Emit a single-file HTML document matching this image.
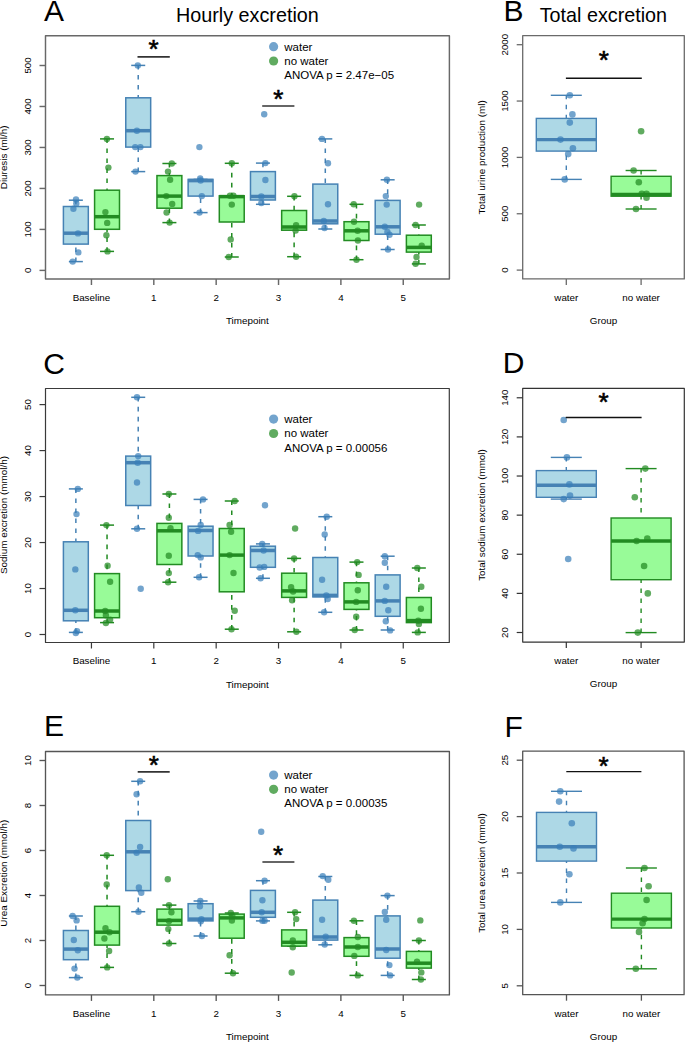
<!DOCTYPE html>
<html><head><meta charset="utf-8"><title>Figure</title>
<style>
html,body{margin:0;padding:0;background:#fff;}
body{width:685px;height:1042px;overflow:hidden;}
svg{display:block;}
text{font-family:"Liberation Sans", sans-serif;}
</style></head><body>
<svg width="685" height="1042" viewBox="0 0 685 1042" font-family='"Liberation Sans", sans-serif'>
<rect width="685" height="1042" fill="#fff"/>
<line x1="75.86" y1="200.2" x2="75.86" y2="206.5" stroke="#4682b4" stroke-width="1.5" stroke-dasharray="4.6 5.4" stroke-dashoffset="0.5"/>
<line x1="75.86" y1="261.6" x2="75.86" y2="244.1" stroke="#4682b4" stroke-width="1.5" stroke-dasharray="4.6 5.4" stroke-dashoffset="0.5"/>
<line x1="68.86" y1="200.2" x2="82.86" y2="200.2" stroke="#4682b4" stroke-width="1.5"/>
<line x1="68.86" y1="261.6" x2="82.86" y2="261.6" stroke="#4682b4" stroke-width="1.5"/>
<rect x="63.41" y="206.5" width="24.9" height="37.6" fill="#add8e6" stroke="#4682b4" stroke-width="1.5"/>
<line x1="63.41" y1="233.2" x2="88.31" y2="233.2" stroke="#4682b4" stroke-width="3.5"/>
<line x1="107.04" y1="138.9" x2="107.04" y2="190.2" stroke="#228b22" stroke-width="1.5" stroke-dasharray="4.6 5.4" stroke-dashoffset="0.5"/>
<line x1="107.04" y1="251.4" x2="107.04" y2="229.3" stroke="#228b22" stroke-width="1.5" stroke-dasharray="4.6 5.4" stroke-dashoffset="0.5"/>
<line x1="100.04" y1="138.9" x2="114.04" y2="138.9" stroke="#228b22" stroke-width="1.5"/>
<line x1="100.04" y1="251.4" x2="114.04" y2="251.4" stroke="#228b22" stroke-width="1.5"/>
<rect x="94.59" y="190.2" width="24.9" height="39.1" fill="#98fb98" stroke="#228b22" stroke-width="1.5"/>
<line x1="94.59" y1="216.7" x2="119.49" y2="216.7" stroke="#228b22" stroke-width="3.5"/>
<line x1="138.22" y1="65.4" x2="138.22" y2="97.8" stroke="#4682b4" stroke-width="1.5" stroke-dasharray="4.6 5.4" stroke-dashoffset="0.5"/>
<line x1="138.22" y1="171.6" x2="138.22" y2="147.1" stroke="#4682b4" stroke-width="1.5" stroke-dasharray="4.6 5.4" stroke-dashoffset="0.5"/>
<line x1="131.22" y1="65.4" x2="145.22" y2="65.4" stroke="#4682b4" stroke-width="1.5"/>
<line x1="131.22" y1="171.6" x2="145.22" y2="171.6" stroke="#4682b4" stroke-width="1.5"/>
<rect x="125.77" y="97.8" width="24.9" height="49.3" fill="#add8e6" stroke="#4682b4" stroke-width="1.5"/>
<line x1="125.77" y1="130.7" x2="150.67" y2="130.7" stroke="#4682b4" stroke-width="3.5"/>
<line x1="169.4" y1="163.5" x2="169.4" y2="175.6" stroke="#228b22" stroke-width="1.5" stroke-dasharray="4.6 5.4" stroke-dashoffset="0.5"/>
<line x1="169.4" y1="222.6" x2="169.4" y2="208.2" stroke="#228b22" stroke-width="1.5" stroke-dasharray="4.6 5.4" stroke-dashoffset="0.5"/>
<line x1="162.4" y1="163.5" x2="176.4" y2="163.5" stroke="#228b22" stroke-width="1.5"/>
<line x1="162.4" y1="222.6" x2="176.4" y2="222.6" stroke="#228b22" stroke-width="1.5"/>
<rect x="156.95" y="175.6" width="24.9" height="32.6" fill="#98fb98" stroke="#228b22" stroke-width="1.5"/>
<line x1="156.95" y1="196.1" x2="181.85" y2="196.1" stroke="#228b22" stroke-width="3.5"/>
<line x1="200.58" y1="212.6" x2="200.58" y2="196.1" stroke="#4682b4" stroke-width="1.5" stroke-dasharray="4.6 5.4" stroke-dashoffset="0.5"/>
<line x1="193.58" y1="179.4" x2="207.58" y2="179.4" stroke="#4682b4" stroke-width="1.5"/>
<line x1="193.58" y1="212.6" x2="207.58" y2="212.6" stroke="#4682b4" stroke-width="1.5"/>
<rect x="188.13" y="179.4" width="24.9" height="16.7" fill="#add8e6" stroke="#4682b4" stroke-width="1.5"/>
<line x1="188.13" y1="180.6" x2="213.03" y2="180.6" stroke="#4682b4" stroke-width="3.5"/>
<line x1="231.76" y1="163.3" x2="231.76" y2="195.8" stroke="#228b22" stroke-width="1.5" stroke-dasharray="4.6 5.4" stroke-dashoffset="0.5"/>
<line x1="231.76" y1="257" x2="231.76" y2="222" stroke="#228b22" stroke-width="1.5" stroke-dasharray="4.6 5.4" stroke-dashoffset="0.5"/>
<line x1="224.76" y1="163.3" x2="238.76" y2="163.3" stroke="#228b22" stroke-width="1.5"/>
<line x1="224.76" y1="257" x2="238.76" y2="257" stroke="#228b22" stroke-width="1.5"/>
<rect x="219.31" y="195.8" width="24.9" height="26.2" fill="#98fb98" stroke="#228b22" stroke-width="1.5"/>
<line x1="219.31" y1="196.6" x2="244.21" y2="196.6" stroke="#228b22" stroke-width="3.5"/>
<line x1="262.94" y1="163.1" x2="262.94" y2="171.6" stroke="#4682b4" stroke-width="1.5" stroke-dasharray="4.6 5.4" stroke-dashoffset="0.5"/>
<line x1="262.94" y1="204.3" x2="262.94" y2="200" stroke="#4682b4" stroke-width="1.5" stroke-dasharray="4.6 5.4" stroke-dashoffset="0.5"/>
<line x1="255.94" y1="163.1" x2="269.94" y2="163.1" stroke="#4682b4" stroke-width="1.5"/>
<line x1="255.94" y1="204.3" x2="269.94" y2="204.3" stroke="#4682b4" stroke-width="1.5"/>
<rect x="250.49" y="171.6" width="24.9" height="28.4" fill="#add8e6" stroke="#4682b4" stroke-width="1.5"/>
<line x1="250.49" y1="196.5" x2="275.39" y2="196.5" stroke="#4682b4" stroke-width="3.5"/>
<line x1="294.12" y1="196.3" x2="294.12" y2="210.5" stroke="#228b22" stroke-width="1.5" stroke-dasharray="4.6 5.4" stroke-dashoffset="0.5"/>
<line x1="294.12" y1="256.7" x2="294.12" y2="230.2" stroke="#228b22" stroke-width="1.5" stroke-dasharray="4.6 5.4" stroke-dashoffset="0.5"/>
<line x1="287.12" y1="196.3" x2="301.12" y2="196.3" stroke="#228b22" stroke-width="1.5"/>
<line x1="287.12" y1="256.7" x2="301.12" y2="256.7" stroke="#228b22" stroke-width="1.5"/>
<rect x="281.67" y="210.5" width="24.9" height="19.7" fill="#98fb98" stroke="#228b22" stroke-width="1.5"/>
<line x1="281.67" y1="227" x2="306.57" y2="227" stroke="#228b22" stroke-width="3.5"/>
<line x1="325.3" y1="138.9" x2="325.3" y2="184.1" stroke="#4682b4" stroke-width="1.5" stroke-dasharray="4.6 5.4" stroke-dashoffset="0.5"/>
<line x1="325.3" y1="229" x2="325.3" y2="223.8" stroke="#4682b4" stroke-width="1.5" stroke-dasharray="4.6 5.4" stroke-dashoffset="0.5"/>
<line x1="318.3" y1="138.9" x2="332.3" y2="138.9" stroke="#4682b4" stroke-width="1.5"/>
<line x1="318.3" y1="229" x2="332.3" y2="229" stroke="#4682b4" stroke-width="1.5"/>
<rect x="312.85" y="184.1" width="24.9" height="39.7" fill="#add8e6" stroke="#4682b4" stroke-width="1.5"/>
<line x1="312.85" y1="221" x2="337.75" y2="221" stroke="#4682b4" stroke-width="3.5"/>
<line x1="356.48" y1="204.3" x2="356.48" y2="221.7" stroke="#228b22" stroke-width="1.5" stroke-dasharray="4.6 5.4" stroke-dashoffset="0.5"/>
<line x1="356.48" y1="259.7" x2="356.48" y2="240.5" stroke="#228b22" stroke-width="1.5" stroke-dasharray="4.6 5.4" stroke-dashoffset="0.5"/>
<line x1="349.48" y1="204.3" x2="363.48" y2="204.3" stroke="#228b22" stroke-width="1.5"/>
<line x1="349.48" y1="259.7" x2="363.48" y2="259.7" stroke="#228b22" stroke-width="1.5"/>
<rect x="344.03" y="221.7" width="24.9" height="18.8" fill="#98fb98" stroke="#228b22" stroke-width="1.5"/>
<line x1="344.03" y1="230.8" x2="368.93" y2="230.8" stroke="#228b22" stroke-width="3.5"/>
<line x1="387.66" y1="179.8" x2="387.66" y2="200.4" stroke="#4682b4" stroke-width="1.5" stroke-dasharray="4.6 5.4" stroke-dashoffset="0.5"/>
<line x1="387.66" y1="249.5" x2="387.66" y2="234.2" stroke="#4682b4" stroke-width="1.5" stroke-dasharray="4.6 5.4" stroke-dashoffset="0.5"/>
<line x1="380.66" y1="179.8" x2="394.66" y2="179.8" stroke="#4682b4" stroke-width="1.5"/>
<line x1="380.66" y1="249.5" x2="394.66" y2="249.5" stroke="#4682b4" stroke-width="1.5"/>
<rect x="375.21" y="200.4" width="24.9" height="33.8" fill="#add8e6" stroke="#4682b4" stroke-width="1.5"/>
<line x1="375.21" y1="226.8" x2="400.11" y2="226.8" stroke="#4682b4" stroke-width="3.5"/>
<line x1="418.84" y1="225" x2="418.84" y2="235.2" stroke="#228b22" stroke-width="1.5" stroke-dasharray="4.6 5.4" stroke-dashoffset="0.5"/>
<line x1="418.84" y1="263.9" x2="418.84" y2="252.1" stroke="#228b22" stroke-width="1.5" stroke-dasharray="4.6 5.4" stroke-dashoffset="0.5"/>
<line x1="411.84" y1="225" x2="425.84" y2="225" stroke="#228b22" stroke-width="1.5"/>
<line x1="411.84" y1="263.9" x2="425.84" y2="263.9" stroke="#228b22" stroke-width="1.5"/>
<rect x="406.39" y="235.2" width="24.9" height="16.9" fill="#98fb98" stroke="#228b22" stroke-width="1.5"/>
<line x1="406.39" y1="247.4" x2="431.29" y2="247.4" stroke="#228b22" stroke-width="3.5"/>
<circle cx="76" cy="199.4" r="3.2" fill="rgba(55,126,184,0.7)"/>
<circle cx="76.3" cy="203.5" r="3.2" fill="rgba(55,126,184,0.7)"/>
<circle cx="73.4" cy="208.8" r="3.2" fill="rgba(55,126,184,0.7)"/>
<circle cx="78" cy="233.4" r="3.2" fill="rgba(55,126,184,0.7)"/>
<circle cx="78.3" cy="252.4" r="3.2" fill="rgba(55,126,184,0.7)"/>
<circle cx="72.7" cy="261.6" r="3.2" fill="rgba(55,126,184,0.7)"/>
<circle cx="106.9" cy="138.9" r="3.2" fill="rgba(34,139,34,0.72)"/>
<circle cx="108.4" cy="167.6" r="3.2" fill="rgba(34,139,34,0.72)"/>
<circle cx="105.4" cy="212.1" r="3.2" fill="rgba(34,139,34,0.72)"/>
<circle cx="107.2" cy="222.9" r="3.2" fill="rgba(34,139,34,0.72)"/>
<circle cx="106.4" cy="235.2" r="3.2" fill="rgba(34,139,34,0.72)"/>
<circle cx="107.5" cy="251.4" r="3.2" fill="rgba(34,139,34,0.72)"/>
<circle cx="137.8" cy="65.4" r="3.2" fill="rgba(55,126,184,0.7)"/>
<circle cx="136.9" cy="130.7" r="3.2" fill="rgba(55,126,184,0.7)"/>
<circle cx="135.2" cy="147.1" r="3.2" fill="rgba(55,126,184,0.7)"/>
<circle cx="140.4" cy="147.1" r="3.2" fill="rgba(55,126,184,0.7)"/>
<circle cx="135.5" cy="171.6" r="3.2" fill="rgba(55,126,184,0.7)"/>
<circle cx="171.8" cy="163.5" r="3.2" fill="rgba(34,139,34,0.72)"/>
<circle cx="168" cy="171.6" r="3.2" fill="rgba(34,139,34,0.72)"/>
<circle cx="170.1" cy="179.7" r="3.2" fill="rgba(34,139,34,0.72)"/>
<circle cx="166.3" cy="196.1" r="3.2" fill="rgba(34,139,34,0.72)"/>
<circle cx="172.2" cy="203.9" r="3.2" fill="rgba(34,139,34,0.72)"/>
<circle cx="166.6" cy="212.5" r="3.2" fill="rgba(34,139,34,0.72)"/>
<circle cx="169.6" cy="222.6" r="3.2" fill="rgba(34,139,34,0.72)"/>
<circle cx="199.4" cy="147.1" r="3.2" fill="rgba(55,126,184,0.7)"/>
<circle cx="200.2" cy="178.5" r="3.2" fill="rgba(55,126,184,0.7)"/>
<circle cx="200.6" cy="180.5" r="3.2" fill="rgba(55,126,184,0.7)"/>
<circle cx="201.8" cy="196.1" r="3.2" fill="rgba(55,126,184,0.7)"/>
<circle cx="199.5" cy="212.6" r="3.2" fill="rgba(55,126,184,0.7)"/>
<circle cx="231.8" cy="163.3" r="3.2" fill="rgba(34,139,34,0.72)"/>
<circle cx="230" cy="195.8" r="3.2" fill="rgba(34,139,34,0.72)"/>
<circle cx="233.4" cy="195.8" r="3.2" fill="rgba(34,139,34,0.72)"/>
<circle cx="231.8" cy="204.6" r="3.2" fill="rgba(34,139,34,0.72)"/>
<circle cx="230.7" cy="239.5" r="3.2" fill="rgba(34,139,34,0.72)"/>
<circle cx="228.7" cy="257" r="3.2" fill="rgba(34,139,34,0.72)"/>
<circle cx="264.2" cy="114.3" r="3.2" fill="rgba(55,126,184,0.7)"/>
<circle cx="265.4" cy="163.1" r="3.2" fill="rgba(55,126,184,0.7)"/>
<circle cx="265.4" cy="180" r="3.2" fill="rgba(55,126,184,0.7)"/>
<circle cx="261.3" cy="196.5" r="3.2" fill="rgba(55,126,184,0.7)"/>
<circle cx="261.3" cy="203.1" r="3.2" fill="rgba(55,126,184,0.7)"/>
<circle cx="294.4" cy="196.3" r="3.2" fill="rgba(34,139,34,0.72)"/>
<circle cx="296.1" cy="225.3" r="3.2" fill="rgba(34,139,34,0.72)"/>
<circle cx="295.6" cy="230.6" r="3.2" fill="rgba(34,139,34,0.72)"/>
<circle cx="296.1" cy="256.7" r="3.2" fill="rgba(34,139,34,0.72)"/>
<circle cx="322" cy="138.9" r="3.2" fill="rgba(55,126,184,0.7)"/>
<circle cx="328" cy="163.3" r="3.2" fill="rgba(55,126,184,0.7)"/>
<circle cx="328" cy="204.3" r="3.2" fill="rgba(55,126,184,0.7)"/>
<circle cx="323.8" cy="221" r="3.2" fill="rgba(55,126,184,0.7)"/>
<circle cx="324.5" cy="228" r="3.2" fill="rgba(55,126,184,0.7)"/>
<circle cx="353.7" cy="204.3" r="3.2" fill="rgba(34,139,34,0.72)"/>
<circle cx="354" cy="221.7" r="3.2" fill="rgba(34,139,34,0.72)"/>
<circle cx="357.6" cy="230.8" r="3.2" fill="rgba(34,139,34,0.72)"/>
<circle cx="357.9" cy="240.5" r="3.2" fill="rgba(34,139,34,0.72)"/>
<circle cx="356.5" cy="259.7" r="3.2" fill="rgba(34,139,34,0.72)"/>
<circle cx="386.9" cy="179.8" r="3.2" fill="rgba(55,126,184,0.7)"/>
<circle cx="385.8" cy="196.1" r="3.2" fill="rgba(55,126,184,0.7)"/>
<circle cx="386.7" cy="204.6" r="3.2" fill="rgba(55,126,184,0.7)"/>
<circle cx="384.8" cy="226.8" r="3.2" fill="rgba(55,126,184,0.7)"/>
<circle cx="387.4" cy="232" r="3.2" fill="rgba(55,126,184,0.7)"/>
<circle cx="389.5" cy="234.7" r="3.2" fill="rgba(55,126,184,0.7)"/>
<circle cx="388" cy="249.5" r="3.2" fill="rgba(55,126,184,0.7)"/>
<circle cx="419.1" cy="204.6" r="3.2" fill="rgba(34,139,34,0.72)"/>
<circle cx="415.6" cy="225" r="3.2" fill="rgba(34,139,34,0.72)"/>
<circle cx="421.7" cy="245.8" r="3.2" fill="rgba(34,139,34,0.72)"/>
<circle cx="416.5" cy="256.9" r="3.2" fill="rgba(34,139,34,0.72)"/>
<circle cx="415.6" cy="263.7" r="3.2" fill="rgba(34,139,34,0.72)"/>
<rect x="45.5" y="35.75" width="403.9" height="243.25" fill="none" stroke="#686868" stroke-width="1.45" stroke-linejoin="round"/>
<line x1="39.5" y1="270.4" x2="45.5" y2="270.4" stroke="#686868" stroke-width="1.45"/>
<text x="0" y="0" transform="translate(31.2,270.4) rotate(-90)" font-size="9.7" text-anchor="middle" font-weight="normal" fill="#000">0</text>
<line x1="39.5" y1="229.42" x2="45.5" y2="229.42" stroke="#686868" stroke-width="1.45"/>
<text x="0" y="0" transform="translate(31.2,229.42) rotate(-90)" font-size="9.7" text-anchor="middle" font-weight="normal" fill="#000">100</text>
<line x1="39.5" y1="188.44" x2="45.5" y2="188.44" stroke="#686868" stroke-width="1.45"/>
<text x="0" y="0" transform="translate(31.2,188.44) rotate(-90)" font-size="9.7" text-anchor="middle" font-weight="normal" fill="#000">200</text>
<line x1="39.5" y1="147.46" x2="45.5" y2="147.46" stroke="#686868" stroke-width="1.45"/>
<text x="0" y="0" transform="translate(31.2,147.46) rotate(-90)" font-size="9.7" text-anchor="middle" font-weight="normal" fill="#000">300</text>
<line x1="39.5" y1="106.48" x2="45.5" y2="106.48" stroke="#686868" stroke-width="1.45"/>
<text x="0" y="0" transform="translate(31.2,106.48) rotate(-90)" font-size="9.7" text-anchor="middle" font-weight="normal" fill="#000">400</text>
<line x1="39.5" y1="65.5" x2="45.5" y2="65.5" stroke="#686868" stroke-width="1.45"/>
<text x="0" y="0" transform="translate(31.2,65.5) rotate(-90)" font-size="9.7" text-anchor="middle" font-weight="normal" fill="#000">500</text>
<line x1="91.45" y1="279" x2="91.45" y2="285" stroke="#686868" stroke-width="1.45"/>
<text x="91.45" y="300.8" font-size="9.8" text-anchor="middle" font-weight="normal" fill="#000">Baseline</text>
<line x1="153.81" y1="279" x2="153.81" y2="285" stroke="#686868" stroke-width="1.45"/>
<text x="153.81" y="300.8" font-size="9.8" text-anchor="middle" font-weight="normal" fill="#000">1</text>
<line x1="216.17" y1="279" x2="216.17" y2="285" stroke="#686868" stroke-width="1.45"/>
<text x="216.17" y="300.8" font-size="9.8" text-anchor="middle" font-weight="normal" fill="#000">2</text>
<line x1="278.53" y1="279" x2="278.53" y2="285" stroke="#686868" stroke-width="1.45"/>
<text x="278.53" y="300.8" font-size="9.8" text-anchor="middle" font-weight="normal" fill="#000">3</text>
<line x1="340.89" y1="279" x2="340.89" y2="285" stroke="#686868" stroke-width="1.45"/>
<text x="340.89" y="300.8" font-size="9.8" text-anchor="middle" font-weight="normal" fill="#000">4</text>
<line x1="403.25" y1="279" x2="403.25" y2="285" stroke="#686868" stroke-width="1.45"/>
<text x="403.25" y="300.8" font-size="9.8" text-anchor="middle" font-weight="normal" fill="#000">5</text>
<text x="247.4" y="324.2" font-size="9.85" text-anchor="middle" font-weight="normal" fill="#000">Timepoint</text>
<text x="0" y="0" transform="translate(7,157.4) rotate(-90)" font-size="9.9" text-anchor="middle" font-weight="normal" fill="#000">Diuresis (ml/h)</text>
<line x1="137.5" y1="56.9" x2="169.8" y2="56.9" stroke="#333" stroke-width="1.7"/>
<text x="153.5" y="57.79" font-size="26" text-anchor="middle" font-weight="normal" fill="#000" stroke="#000" stroke-width="0.6">*</text>
<line x1="262.2" y1="106" x2="294.4" y2="106" stroke="#333" stroke-width="1.7"/>
<text x="278.2" y="108.39" font-size="26" text-anchor="middle" font-weight="normal" fill="#000" stroke="#000" stroke-width="0.6">*</text>
<circle cx="273.6" cy="46.7" r="4.6" fill="rgba(55,126,184,0.7)"/>
<circle cx="273.6" cy="61" r="4.6" fill="rgba(34,139,34,0.72)"/>
<text x="284.3" y="50.6" font-size="11.5" text-anchor="start" font-weight="normal" fill="#000">water</text>
<text x="284.3" y="64.9" font-size="11.5" text-anchor="start" font-weight="normal" fill="#000">no water</text>
<text x="284.3" y="79.3" font-size="11.5" text-anchor="start" font-weight="normal" fill="#000">ANOVA p = 2.47e−05</text>
<line x1="75.86" y1="488.9" x2="75.86" y2="541.8" stroke="#4682b4" stroke-width="1.5" stroke-dasharray="4.6 5.4" stroke-dashoffset="0.5"/>
<line x1="75.86" y1="632.4" x2="75.86" y2="620.8" stroke="#4682b4" stroke-width="1.5" stroke-dasharray="4.6 5.4" stroke-dashoffset="0.5"/>
<line x1="68.86" y1="488.9" x2="82.86" y2="488.9" stroke="#4682b4" stroke-width="1.5"/>
<line x1="68.86" y1="632.4" x2="82.86" y2="632.4" stroke="#4682b4" stroke-width="1.5"/>
<rect x="63.41" y="541.8" width="24.9" height="79" fill="#add8e6" stroke="#4682b4" stroke-width="1.5"/>
<line x1="63.41" y1="610.3" x2="88.31" y2="610.3" stroke="#4682b4" stroke-width="3.5"/>
<line x1="107.04" y1="525.1" x2="107.04" y2="573.6" stroke="#228b22" stroke-width="1.5" stroke-dasharray="4.6 5.4" stroke-dashoffset="0.5"/>
<line x1="107.04" y1="622.6" x2="107.04" y2="617.7" stroke="#228b22" stroke-width="1.5" stroke-dasharray="4.6 5.4" stroke-dashoffset="0.5"/>
<line x1="100.04" y1="525.1" x2="114.04" y2="525.1" stroke="#228b22" stroke-width="1.5"/>
<line x1="100.04" y1="622.6" x2="114.04" y2="622.6" stroke="#228b22" stroke-width="1.5"/>
<rect x="94.59" y="573.6" width="24.9" height="44.1" fill="#98fb98" stroke="#228b22" stroke-width="1.5"/>
<line x1="94.59" y1="611" x2="119.49" y2="611" stroke="#228b22" stroke-width="3.5"/>
<line x1="138.22" y1="397.3" x2="138.22" y2="456.1" stroke="#4682b4" stroke-width="1.5" stroke-dasharray="4.6 5.4" stroke-dashoffset="0.5"/>
<line x1="138.22" y1="528.8" x2="138.22" y2="505.5" stroke="#4682b4" stroke-width="1.5" stroke-dasharray="4.6 5.4" stroke-dashoffset="0.5"/>
<line x1="131.22" y1="397.3" x2="145.22" y2="397.3" stroke="#4682b4" stroke-width="1.5"/>
<line x1="131.22" y1="528.8" x2="145.22" y2="528.8" stroke="#4682b4" stroke-width="1.5"/>
<rect x="125.77" y="456.1" width="24.9" height="49.4" fill="#add8e6" stroke="#4682b4" stroke-width="1.5"/>
<line x1="125.77" y1="462.7" x2="150.67" y2="462.7" stroke="#4682b4" stroke-width="3.5"/>
<line x1="169.4" y1="494" x2="169.4" y2="523.4" stroke="#228b22" stroke-width="1.5" stroke-dasharray="4.6 5.4" stroke-dashoffset="0.5"/>
<line x1="169.4" y1="582.2" x2="169.4" y2="564.5" stroke="#228b22" stroke-width="1.5" stroke-dasharray="4.6 5.4" stroke-dashoffset="0.5"/>
<line x1="162.4" y1="494" x2="176.4" y2="494" stroke="#228b22" stroke-width="1.5"/>
<line x1="162.4" y1="582.2" x2="176.4" y2="582.2" stroke="#228b22" stroke-width="1.5"/>
<rect x="156.95" y="523.4" width="24.9" height="41.1" fill="#98fb98" stroke="#228b22" stroke-width="1.5"/>
<line x1="156.95" y1="530.8" x2="181.85" y2="530.8" stroke="#228b22" stroke-width="3.5"/>
<line x1="200.58" y1="499.4" x2="200.58" y2="526.2" stroke="#4682b4" stroke-width="1.5" stroke-dasharray="4.6 5.4" stroke-dashoffset="0.5"/>
<line x1="200.58" y1="577.3" x2="200.58" y2="556" stroke="#4682b4" stroke-width="1.5" stroke-dasharray="4.6 5.4" stroke-dashoffset="0.5"/>
<line x1="193.58" y1="499.4" x2="207.58" y2="499.4" stroke="#4682b4" stroke-width="1.5"/>
<line x1="193.58" y1="577.3" x2="207.58" y2="577.3" stroke="#4682b4" stroke-width="1.5"/>
<rect x="188.13" y="526.2" width="24.9" height="29.8" fill="#add8e6" stroke="#4682b4" stroke-width="1.5"/>
<line x1="188.13" y1="530.5" x2="213.03" y2="530.5" stroke="#4682b4" stroke-width="3.5"/>
<line x1="231.76" y1="501" x2="231.76" y2="528.5" stroke="#228b22" stroke-width="1.5" stroke-dasharray="4.6 5.4" stroke-dashoffset="0.5"/>
<line x1="231.76" y1="629.2" x2="231.76" y2="591.8" stroke="#228b22" stroke-width="1.5" stroke-dasharray="4.6 5.4" stroke-dashoffset="0.5"/>
<line x1="224.76" y1="501" x2="238.76" y2="501" stroke="#228b22" stroke-width="1.5"/>
<line x1="224.76" y1="629.2" x2="238.76" y2="629.2" stroke="#228b22" stroke-width="1.5"/>
<rect x="219.31" y="528.5" width="24.9" height="63.3" fill="#98fb98" stroke="#228b22" stroke-width="1.5"/>
<line x1="219.31" y1="555.1" x2="244.21" y2="555.1" stroke="#228b22" stroke-width="3.5"/>
<line x1="262.94" y1="543.9" x2="262.94" y2="546.2" stroke="#4682b4" stroke-width="1.5" stroke-dasharray="4.6 5.4" stroke-dashoffset="0.5"/>
<line x1="262.94" y1="578.3" x2="262.94" y2="567.3" stroke="#4682b4" stroke-width="1.5" stroke-dasharray="4.6 5.4" stroke-dashoffset="0.5"/>
<line x1="255.94" y1="543.9" x2="269.94" y2="543.9" stroke="#4682b4" stroke-width="1.5"/>
<line x1="255.94" y1="578.3" x2="269.94" y2="578.3" stroke="#4682b4" stroke-width="1.5"/>
<rect x="250.49" y="546.2" width="24.9" height="21.1" fill="#add8e6" stroke="#4682b4" stroke-width="1.5"/>
<line x1="250.49" y1="550.5" x2="275.39" y2="550.5" stroke="#4682b4" stroke-width="3.5"/>
<line x1="294.12" y1="558.4" x2="294.12" y2="573.2" stroke="#228b22" stroke-width="1.5" stroke-dasharray="4.6 5.4" stroke-dashoffset="0.5"/>
<line x1="294.12" y1="631.8" x2="294.12" y2="597.4" stroke="#228b22" stroke-width="1.5" stroke-dasharray="4.6 5.4" stroke-dashoffset="0.5"/>
<line x1="287.12" y1="558.4" x2="301.12" y2="558.4" stroke="#228b22" stroke-width="1.5"/>
<line x1="287.12" y1="631.8" x2="301.12" y2="631.8" stroke="#228b22" stroke-width="1.5"/>
<rect x="281.67" y="573.2" width="24.9" height="24.2" fill="#98fb98" stroke="#228b22" stroke-width="1.5"/>
<line x1="281.67" y1="590.9" x2="306.57" y2="590.9" stroke="#228b22" stroke-width="3.5"/>
<line x1="325.3" y1="516.7" x2="325.3" y2="557.5" stroke="#4682b4" stroke-width="1.5" stroke-dasharray="4.6 5.4" stroke-dashoffset="0.5"/>
<line x1="325.3" y1="612.3" x2="325.3" y2="596.9" stroke="#4682b4" stroke-width="1.5" stroke-dasharray="4.6 5.4" stroke-dashoffset="0.5"/>
<line x1="318.3" y1="516.7" x2="332.3" y2="516.7" stroke="#4682b4" stroke-width="1.5"/>
<line x1="318.3" y1="612.3" x2="332.3" y2="612.3" stroke="#4682b4" stroke-width="1.5"/>
<rect x="312.85" y="557.5" width="24.9" height="39.4" fill="#add8e6" stroke="#4682b4" stroke-width="1.5"/>
<line x1="312.85" y1="595.4" x2="337.75" y2="595.4" stroke="#4682b4" stroke-width="3.5"/>
<line x1="356.48" y1="562.1" x2="356.48" y2="582.8" stroke="#228b22" stroke-width="1.5" stroke-dasharray="4.6 5.4" stroke-dashoffset="0.5"/>
<line x1="356.48" y1="630" x2="356.48" y2="609.4" stroke="#228b22" stroke-width="1.5" stroke-dasharray="4.6 5.4" stroke-dashoffset="0.5"/>
<line x1="349.48" y1="562.1" x2="363.48" y2="562.1" stroke="#228b22" stroke-width="1.5"/>
<line x1="349.48" y1="630" x2="363.48" y2="630" stroke="#228b22" stroke-width="1.5"/>
<rect x="344.03" y="582.8" width="24.9" height="26.6" fill="#98fb98" stroke="#228b22" stroke-width="1.5"/>
<line x1="344.03" y1="601.9" x2="368.93" y2="601.9" stroke="#228b22" stroke-width="3.5"/>
<line x1="387.66" y1="556.2" x2="387.66" y2="574.9" stroke="#4682b4" stroke-width="1.5" stroke-dasharray="4.6 5.4" stroke-dashoffset="0.5"/>
<line x1="387.66" y1="630" x2="387.66" y2="616.3" stroke="#4682b4" stroke-width="1.5" stroke-dasharray="4.6 5.4" stroke-dashoffset="0.5"/>
<line x1="380.66" y1="556.2" x2="394.66" y2="556.2" stroke="#4682b4" stroke-width="1.5"/>
<line x1="380.66" y1="630" x2="394.66" y2="630" stroke="#4682b4" stroke-width="1.5"/>
<rect x="375.21" y="574.9" width="24.9" height="41.4" fill="#add8e6" stroke="#4682b4" stroke-width="1.5"/>
<line x1="375.21" y1="600.9" x2="400.11" y2="600.9" stroke="#4682b4" stroke-width="3.5"/>
<line x1="418.84" y1="568" x2="418.84" y2="597.5" stroke="#228b22" stroke-width="1.5" stroke-dasharray="4.6 5.4" stroke-dashoffset="0.5"/>
<line x1="418.84" y1="632.4" x2="418.84" y2="622.6" stroke="#228b22" stroke-width="1.5" stroke-dasharray="4.6 5.4" stroke-dashoffset="0.5"/>
<line x1="411.84" y1="568" x2="425.84" y2="568" stroke="#228b22" stroke-width="1.5"/>
<line x1="411.84" y1="632.4" x2="425.84" y2="632.4" stroke="#228b22" stroke-width="1.5"/>
<rect x="406.39" y="597.5" width="24.9" height="25.1" fill="#98fb98" stroke="#228b22" stroke-width="1.5"/>
<line x1="406.39" y1="620.6" x2="431.29" y2="620.6" stroke="#228b22" stroke-width="3.5"/>
<circle cx="77.8" cy="488.9" r="3.2" fill="rgba(55,126,184,0.7)"/>
<circle cx="76.5" cy="514.1" r="3.2" fill="rgba(55,126,184,0.7)"/>
<circle cx="75.3" cy="569.4" r="3.2" fill="rgba(55,126,184,0.7)"/>
<circle cx="75.3" cy="610.3" r="3.2" fill="rgba(55,126,184,0.7)"/>
<circle cx="77" cy="631.1" r="3.2" fill="rgba(55,126,184,0.7)"/>
<circle cx="75.8" cy="633.1" r="3.2" fill="rgba(55,126,184,0.7)"/>
<circle cx="106.4" cy="525.1" r="3.2" fill="rgba(34,139,34,0.72)"/>
<circle cx="107.6" cy="565.8" r="3.2" fill="rgba(34,139,34,0.72)"/>
<circle cx="110.1" cy="581.7" r="3.2" fill="rgba(34,139,34,0.72)"/>
<circle cx="105.2" cy="611" r="3.2" fill="rgba(34,139,34,0.72)"/>
<circle cx="105.9" cy="615.2" r="3.2" fill="rgba(34,139,34,0.72)"/>
<circle cx="110.1" cy="619.6" r="3.2" fill="rgba(34,139,34,0.72)"/>
<circle cx="105.9" cy="623" r="3.2" fill="rgba(34,139,34,0.72)"/>
<circle cx="137" cy="397.3" r="3.2" fill="rgba(55,126,184,0.7)"/>
<circle cx="138.2" cy="456.1" r="3.2" fill="rgba(55,126,184,0.7)"/>
<circle cx="137.7" cy="462.7" r="3.2" fill="rgba(55,126,184,0.7)"/>
<circle cx="137" cy="482.5" r="3.2" fill="rgba(55,126,184,0.7)"/>
<circle cx="137" cy="528.8" r="3.2" fill="rgba(55,126,184,0.7)"/>
<circle cx="140.7" cy="588.8" r="3.2" fill="rgba(55,126,184,0.7)"/>
<circle cx="168.8" cy="494" r="3.2" fill="rgba(34,139,34,0.72)"/>
<circle cx="168.8" cy="517.8" r="3.2" fill="rgba(34,139,34,0.72)"/>
<circle cx="170.5" cy="528.3" r="3.2" fill="rgba(34,139,34,0.72)"/>
<circle cx="168.8" cy="555.7" r="3.2" fill="rgba(34,139,34,0.72)"/>
<circle cx="168.8" cy="573.1" r="3.2" fill="rgba(34,139,34,0.72)"/>
<circle cx="168.1" cy="582.2" r="3.2" fill="rgba(34,139,34,0.72)"/>
<circle cx="203" cy="499.4" r="3.2" fill="rgba(55,126,184,0.7)"/>
<circle cx="200.7" cy="525" r="3.2" fill="rgba(55,126,184,0.7)"/>
<circle cx="198.1" cy="530.9" r="3.2" fill="rgba(55,126,184,0.7)"/>
<circle cx="197.7" cy="555.1" r="3.2" fill="rgba(55,126,184,0.7)"/>
<circle cx="200.7" cy="557.4" r="3.2" fill="rgba(55,126,184,0.7)"/>
<circle cx="199.1" cy="577.3" r="3.2" fill="rgba(55,126,184,0.7)"/>
<circle cx="234.7" cy="501" r="3.2" fill="rgba(34,139,34,0.72)"/>
<circle cx="229.6" cy="525" r="3.2" fill="rgba(34,139,34,0.72)"/>
<circle cx="231.1" cy="531.7" r="3.2" fill="rgba(34,139,34,0.72)"/>
<circle cx="229.6" cy="555.1" r="3.2" fill="rgba(34,139,34,0.72)"/>
<circle cx="233.5" cy="573" r="3.2" fill="rgba(34,139,34,0.72)"/>
<circle cx="234.7" cy="610.7" r="3.2" fill="rgba(34,139,34,0.72)"/>
<circle cx="231.5" cy="629.2" r="3.2" fill="rgba(34,139,34,0.72)"/>
<circle cx="265" cy="505.3" r="3.2" fill="rgba(55,126,184,0.7)"/>
<circle cx="262.2" cy="543.9" r="3.2" fill="rgba(55,126,184,0.7)"/>
<circle cx="263.6" cy="550.5" r="3.2" fill="rgba(55,126,184,0.7)"/>
<circle cx="259.7" cy="567.5" r="3.2" fill="rgba(55,126,184,0.7)"/>
<circle cx="264.2" cy="566.9" r="3.2" fill="rgba(55,126,184,0.7)"/>
<circle cx="260.6" cy="578.3" r="3.2" fill="rgba(55,126,184,0.7)"/>
<circle cx="295.1" cy="528.5" r="3.2" fill="rgba(34,139,34,0.72)"/>
<circle cx="294.1" cy="558.4" r="3.2" fill="rgba(34,139,34,0.72)"/>
<circle cx="291.1" cy="587.1" r="3.2" fill="rgba(34,139,34,0.72)"/>
<circle cx="293.1" cy="591.5" r="3.2" fill="rgba(34,139,34,0.72)"/>
<circle cx="292.1" cy="600.3" r="3.2" fill="rgba(34,139,34,0.72)"/>
<circle cx="296.4" cy="631.8" r="3.2" fill="rgba(34,139,34,0.72)"/>
<circle cx="326.7" cy="516.7" r="3.2" fill="rgba(55,126,184,0.7)"/>
<circle cx="324.7" cy="534.5" r="3.2" fill="rgba(55,126,184,0.7)"/>
<circle cx="322.1" cy="579.8" r="3.2" fill="rgba(55,126,184,0.7)"/>
<circle cx="326.3" cy="595.4" r="3.2" fill="rgba(55,126,184,0.7)"/>
<circle cx="327.7" cy="599.1" r="3.2" fill="rgba(55,126,184,0.7)"/>
<circle cx="324.1" cy="612.3" r="3.2" fill="rgba(55,126,184,0.7)"/>
<circle cx="357.2" cy="562.1" r="3.2" fill="rgba(34,139,34,0.72)"/>
<circle cx="358.6" cy="574.9" r="3.2" fill="rgba(34,139,34,0.72)"/>
<circle cx="357.8" cy="590.2" r="3.2" fill="rgba(34,139,34,0.72)"/>
<circle cx="356.2" cy="601.9" r="3.2" fill="rgba(34,139,34,0.72)"/>
<circle cx="356.2" cy="616.7" r="3.2" fill="rgba(34,139,34,0.72)"/>
<circle cx="354.7" cy="630" r="3.2" fill="rgba(34,139,34,0.72)"/>
<circle cx="384.8" cy="556.2" r="3.2" fill="rgba(55,126,184,0.7)"/>
<circle cx="384.8" cy="562.7" r="3.2" fill="rgba(55,126,184,0.7)"/>
<circle cx="386.2" cy="586.7" r="3.2" fill="rgba(55,126,184,0.7)"/>
<circle cx="384.8" cy="600.9" r="3.2" fill="rgba(55,126,184,0.7)"/>
<circle cx="388.3" cy="610.3" r="3.2" fill="rgba(55,126,184,0.7)"/>
<circle cx="385.8" cy="621.2" r="3.2" fill="rgba(55,126,184,0.7)"/>
<circle cx="390.1" cy="630.4" r="3.2" fill="rgba(55,126,184,0.7)"/>
<circle cx="417.3" cy="568" r="3.2" fill="rgba(34,139,34,0.72)"/>
<circle cx="421.3" cy="586.7" r="3.2" fill="rgba(34,139,34,0.72)"/>
<circle cx="420.9" cy="608.8" r="3.2" fill="rgba(34,139,34,0.72)"/>
<circle cx="418.3" cy="620.6" r="3.2" fill="rgba(34,139,34,0.72)"/>
<circle cx="418.9" cy="624.1" r="3.2" fill="rgba(34,139,34,0.72)"/>
<circle cx="417.7" cy="632.4" r="3.2" fill="rgba(34,139,34,0.72)"/>
<rect x="45.5" y="388.5" width="403.8" height="254" fill="none" stroke="#3a3a3a" stroke-width="1.2" stroke-linejoin="round"/>
<line x1="39.5" y1="634.5" x2="45.5" y2="634.5" stroke="#3a3a3a" stroke-width="1.2"/>
<text x="0" y="0" transform="translate(31.2,634.5) rotate(-90)" font-size="9.7" text-anchor="middle" font-weight="normal" fill="#000">0</text>
<line x1="39.5" y1="588.52" x2="45.5" y2="588.52" stroke="#3a3a3a" stroke-width="1.2"/>
<text x="0" y="0" transform="translate(31.2,588.52) rotate(-90)" font-size="9.7" text-anchor="middle" font-weight="normal" fill="#000">10</text>
<line x1="39.5" y1="542.54" x2="45.5" y2="542.54" stroke="#3a3a3a" stroke-width="1.2"/>
<text x="0" y="0" transform="translate(31.2,542.54) rotate(-90)" font-size="9.7" text-anchor="middle" font-weight="normal" fill="#000">20</text>
<line x1="39.5" y1="496.56" x2="45.5" y2="496.56" stroke="#3a3a3a" stroke-width="1.2"/>
<text x="0" y="0" transform="translate(31.2,496.56) rotate(-90)" font-size="9.7" text-anchor="middle" font-weight="normal" fill="#000">30</text>
<line x1="39.5" y1="450.58" x2="45.5" y2="450.58" stroke="#3a3a3a" stroke-width="1.2"/>
<text x="0" y="0" transform="translate(31.2,450.58) rotate(-90)" font-size="9.7" text-anchor="middle" font-weight="normal" fill="#000">40</text>
<line x1="39.5" y1="404.6" x2="45.5" y2="404.6" stroke="#3a3a3a" stroke-width="1.2"/>
<text x="0" y="0" transform="translate(31.2,404.6) rotate(-90)" font-size="9.7" text-anchor="middle" font-weight="normal" fill="#000">50</text>
<line x1="91.45" y1="642.5" x2="91.45" y2="648.5" stroke="#3a3a3a" stroke-width="1.2"/>
<text x="91.45" y="664.3" font-size="9.8" text-anchor="middle" font-weight="normal" fill="#000">Baseline</text>
<line x1="153.81" y1="642.5" x2="153.81" y2="648.5" stroke="#3a3a3a" stroke-width="1.2"/>
<text x="153.81" y="664.3" font-size="9.8" text-anchor="middle" font-weight="normal" fill="#000">1</text>
<line x1="216.17" y1="642.5" x2="216.17" y2="648.5" stroke="#3a3a3a" stroke-width="1.2"/>
<text x="216.17" y="664.3" font-size="9.8" text-anchor="middle" font-weight="normal" fill="#000">2</text>
<line x1="278.53" y1="642.5" x2="278.53" y2="648.5" stroke="#3a3a3a" stroke-width="1.2"/>
<text x="278.53" y="664.3" font-size="9.8" text-anchor="middle" font-weight="normal" fill="#000">3</text>
<line x1="340.89" y1="642.5" x2="340.89" y2="648.5" stroke="#3a3a3a" stroke-width="1.2"/>
<text x="340.89" y="664.3" font-size="9.8" text-anchor="middle" font-weight="normal" fill="#000">4</text>
<line x1="403.25" y1="642.5" x2="403.25" y2="648.5" stroke="#3a3a3a" stroke-width="1.2"/>
<text x="403.25" y="664.3" font-size="9.8" text-anchor="middle" font-weight="normal" fill="#000">5</text>
<text x="247.4" y="687.7" font-size="9.85" text-anchor="middle" font-weight="normal" fill="#000">Timepoint</text>
<text x="0" y="0" transform="translate(7,515) rotate(-90)" font-size="9.9" text-anchor="middle" font-weight="normal" fill="#000">Sodium excretion (mmol/h)</text>
<circle cx="273.6" cy="419.1" r="4.6" fill="rgba(55,126,184,0.7)"/>
<circle cx="273.6" cy="433.5" r="4.6" fill="rgba(34,139,34,0.72)"/>
<text x="284.3" y="422.6" font-size="11.5" text-anchor="start" font-weight="normal" fill="#000">water</text>
<text x="284.3" y="437" font-size="11.5" text-anchor="start" font-weight="normal" fill="#000">no water</text>
<text x="284.3" y="451.8" font-size="11.5" text-anchor="start" font-weight="normal" fill="#000">ANOVA p = 0.00056</text>
<line x1="75.86" y1="916" x2="75.86" y2="930.5" stroke="#4682b4" stroke-width="1.5" stroke-dasharray="4.6 5.4" stroke-dashoffset="0.5"/>
<line x1="75.86" y1="977.6" x2="75.86" y2="959.7" stroke="#4682b4" stroke-width="1.5" stroke-dasharray="4.6 5.4" stroke-dashoffset="0.5"/>
<line x1="68.86" y1="916" x2="82.86" y2="916" stroke="#4682b4" stroke-width="1.5"/>
<line x1="68.86" y1="977.6" x2="82.86" y2="977.6" stroke="#4682b4" stroke-width="1.5"/>
<rect x="63.41" y="930.5" width="24.9" height="29.2" fill="#add8e6" stroke="#4682b4" stroke-width="1.5"/>
<line x1="63.41" y1="949.1" x2="88.31" y2="949.1" stroke="#4682b4" stroke-width="3.5"/>
<line x1="107.04" y1="855.3" x2="107.04" y2="906.3" stroke="#228b22" stroke-width="1.5" stroke-dasharray="4.6 5.4" stroke-dashoffset="0.5"/>
<line x1="107.04" y1="967.4" x2="107.04" y2="945.1" stroke="#228b22" stroke-width="1.5" stroke-dasharray="4.6 5.4" stroke-dashoffset="0.5"/>
<line x1="100.04" y1="855.3" x2="114.04" y2="855.3" stroke="#228b22" stroke-width="1.5"/>
<line x1="100.04" y1="967.4" x2="114.04" y2="967.4" stroke="#228b22" stroke-width="1.5"/>
<rect x="94.59" y="906.3" width="24.9" height="38.8" fill="#98fb98" stroke="#228b22" stroke-width="1.5"/>
<line x1="94.59" y1="932.2" x2="119.49" y2="932.2" stroke="#228b22" stroke-width="3.5"/>
<line x1="138.22" y1="781.3" x2="138.22" y2="820.5" stroke="#4682b4" stroke-width="1.5" stroke-dasharray="4.6 5.4" stroke-dashoffset="0.5"/>
<line x1="138.22" y1="911.7" x2="138.22" y2="890.6" stroke="#4682b4" stroke-width="1.5" stroke-dasharray="4.6 5.4" stroke-dashoffset="0.5"/>
<line x1="131.22" y1="781.3" x2="145.22" y2="781.3" stroke="#4682b4" stroke-width="1.5"/>
<line x1="131.22" y1="911.7" x2="145.22" y2="911.7" stroke="#4682b4" stroke-width="1.5"/>
<rect x="125.77" y="820.5" width="24.9" height="70.1" fill="#add8e6" stroke="#4682b4" stroke-width="1.5"/>
<line x1="125.77" y1="851.8" x2="150.67" y2="851.8" stroke="#4682b4" stroke-width="3.5"/>
<line x1="169.4" y1="905.1" x2="169.4" y2="909.1" stroke="#228b22" stroke-width="1.5" stroke-dasharray="4.6 5.4" stroke-dashoffset="0.5"/>
<line x1="169.4" y1="943.5" x2="169.4" y2="925.1" stroke="#228b22" stroke-width="1.5" stroke-dasharray="4.6 5.4" stroke-dashoffset="0.5"/>
<line x1="162.4" y1="905.1" x2="176.4" y2="905.1" stroke="#228b22" stroke-width="1.5"/>
<line x1="162.4" y1="943.5" x2="176.4" y2="943.5" stroke="#228b22" stroke-width="1.5"/>
<rect x="156.95" y="909.1" width="24.9" height="16" fill="#98fb98" stroke="#228b22" stroke-width="1.5"/>
<line x1="156.95" y1="920.4" x2="181.85" y2="920.4" stroke="#228b22" stroke-width="3.5"/>
<line x1="200.58" y1="901" x2="200.58" y2="903.7" stroke="#4682b4" stroke-width="1.5" stroke-dasharray="4.6 5.4" stroke-dashoffset="0.5"/>
<line x1="200.58" y1="936" x2="200.58" y2="920.9" stroke="#4682b4" stroke-width="1.5" stroke-dasharray="4.6 5.4" stroke-dashoffset="0.5"/>
<line x1="193.58" y1="901" x2="207.58" y2="901" stroke="#4682b4" stroke-width="1.5"/>
<line x1="193.58" y1="936" x2="207.58" y2="936" stroke="#4682b4" stroke-width="1.5"/>
<rect x="188.13" y="903.7" width="24.9" height="17.2" fill="#add8e6" stroke="#4682b4" stroke-width="1.5"/>
<line x1="188.13" y1="919.1" x2="213.03" y2="919.1" stroke="#4682b4" stroke-width="3.5"/>
<line x1="231.76" y1="913" x2="231.76" y2="914.1" stroke="#228b22" stroke-width="1.5" stroke-dasharray="4.6 5.4" stroke-dashoffset="0.5"/>
<line x1="231.76" y1="973.2" x2="231.76" y2="938.2" stroke="#228b22" stroke-width="1.5" stroke-dasharray="4.6 5.4" stroke-dashoffset="0.5"/>
<line x1="224.76" y1="913" x2="238.76" y2="913" stroke="#228b22" stroke-width="1.5"/>
<line x1="224.76" y1="973.2" x2="238.76" y2="973.2" stroke="#228b22" stroke-width="1.5"/>
<rect x="219.31" y="914.1" width="24.9" height="24.1" fill="#98fb98" stroke="#228b22" stroke-width="1.5"/>
<line x1="219.31" y1="917.9" x2="244.21" y2="917.9" stroke="#228b22" stroke-width="3.5"/>
<line x1="262.94" y1="880.7" x2="262.94" y2="890.4" stroke="#4682b4" stroke-width="1.5" stroke-dasharray="4.6 5.4" stroke-dashoffset="0.5"/>
<line x1="262.94" y1="920.9" x2="262.94" y2="917.3" stroke="#4682b4" stroke-width="1.5" stroke-dasharray="4.6 5.4" stroke-dashoffset="0.5"/>
<line x1="255.94" y1="880.7" x2="269.94" y2="880.7" stroke="#4682b4" stroke-width="1.5"/>
<line x1="255.94" y1="920.9" x2="269.94" y2="920.9" stroke="#4682b4" stroke-width="1.5"/>
<rect x="250.49" y="890.4" width="24.9" height="26.9" fill="#add8e6" stroke="#4682b4" stroke-width="1.5"/>
<line x1="250.49" y1="912.3" x2="275.39" y2="912.3" stroke="#4682b4" stroke-width="3.5"/>
<line x1="294.12" y1="912.3" x2="294.12" y2="929.9" stroke="#228b22" stroke-width="1.5" stroke-dasharray="4.6 5.4" stroke-dashoffset="0.5"/>
<line x1="287.12" y1="912.3" x2="301.12" y2="912.3" stroke="#228b22" stroke-width="1.5"/>
<line x1="287.12" y1="946.1" x2="301.12" y2="946.1" stroke="#228b22" stroke-width="1.5"/>
<rect x="281.67" y="929.9" width="24.9" height="16.2" fill="#98fb98" stroke="#228b22" stroke-width="1.5"/>
<line x1="281.67" y1="942.3" x2="306.57" y2="942.3" stroke="#228b22" stroke-width="3.5"/>
<line x1="325.3" y1="876.5" x2="325.3" y2="900.1" stroke="#4682b4" stroke-width="1.5" stroke-dasharray="4.6 5.4" stroke-dashoffset="0.5"/>
<line x1="325.3" y1="944.8" x2="325.3" y2="940.1" stroke="#4682b4" stroke-width="1.5" stroke-dasharray="4.6 5.4" stroke-dashoffset="0.5"/>
<line x1="318.3" y1="876.5" x2="332.3" y2="876.5" stroke="#4682b4" stroke-width="1.5"/>
<line x1="318.3" y1="944.8" x2="332.3" y2="944.8" stroke="#4682b4" stroke-width="1.5"/>
<rect x="312.85" y="900.1" width="24.9" height="40" fill="#add8e6" stroke="#4682b4" stroke-width="1.5"/>
<line x1="312.85" y1="937" x2="337.75" y2="937" stroke="#4682b4" stroke-width="3.5"/>
<line x1="356.48" y1="920.8" x2="356.48" y2="937.6" stroke="#228b22" stroke-width="1.5" stroke-dasharray="4.6 5.4" stroke-dashoffset="0.5"/>
<line x1="356.48" y1="975.4" x2="356.48" y2="956.3" stroke="#228b22" stroke-width="1.5" stroke-dasharray="4.6 5.4" stroke-dashoffset="0.5"/>
<line x1="349.48" y1="920.8" x2="363.48" y2="920.8" stroke="#228b22" stroke-width="1.5"/>
<line x1="349.48" y1="975.4" x2="363.48" y2="975.4" stroke="#228b22" stroke-width="1.5"/>
<rect x="344.03" y="937.6" width="24.9" height="18.7" fill="#98fb98" stroke="#228b22" stroke-width="1.5"/>
<line x1="344.03" y1="947" x2="368.93" y2="947" stroke="#228b22" stroke-width="3.5"/>
<line x1="387.66" y1="895.6" x2="387.66" y2="915.9" stroke="#4682b4" stroke-width="1.5" stroke-dasharray="4.6 5.4" stroke-dashoffset="0.5"/>
<line x1="387.66" y1="975.4" x2="387.66" y2="958.2" stroke="#4682b4" stroke-width="1.5" stroke-dasharray="4.6 5.4" stroke-dashoffset="0.5"/>
<line x1="380.66" y1="895.6" x2="394.66" y2="895.6" stroke="#4682b4" stroke-width="1.5"/>
<line x1="380.66" y1="975.4" x2="394.66" y2="975.4" stroke="#4682b4" stroke-width="1.5"/>
<rect x="375.21" y="915.9" width="24.9" height="42.3" fill="#add8e6" stroke="#4682b4" stroke-width="1.5"/>
<line x1="375.21" y1="949" x2="400.11" y2="949" stroke="#4682b4" stroke-width="3.5"/>
<line x1="418.84" y1="940.5" x2="418.84" y2="951.4" stroke="#228b22" stroke-width="1.5" stroke-dasharray="4.6 5.4" stroke-dashoffset="0.5"/>
<line x1="418.84" y1="979.5" x2="418.84" y2="968.1" stroke="#228b22" stroke-width="1.5" stroke-dasharray="4.6 5.4" stroke-dashoffset="0.5"/>
<line x1="411.84" y1="940.5" x2="425.84" y2="940.5" stroke="#228b22" stroke-width="1.5"/>
<line x1="411.84" y1="979.5" x2="425.84" y2="979.5" stroke="#228b22" stroke-width="1.5"/>
<rect x="406.39" y="951.4" width="24.9" height="16.7" fill="#98fb98" stroke="#228b22" stroke-width="1.5"/>
<line x1="406.39" y1="963.2" x2="431.29" y2="963.2" stroke="#228b22" stroke-width="3.5"/>
<circle cx="72.6" cy="916" r="3.2" fill="rgba(55,126,184,0.7)"/>
<circle cx="76.6" cy="920.4" r="3.2" fill="rgba(55,126,184,0.7)"/>
<circle cx="73.8" cy="940" r="3.2" fill="rgba(55,126,184,0.7)"/>
<circle cx="77.8" cy="950.3" r="3.2" fill="rgba(55,126,184,0.7)"/>
<circle cx="74.5" cy="968.6" r="3.2" fill="rgba(55,126,184,0.7)"/>
<circle cx="77.3" cy="977.6" r="3.2" fill="rgba(55,126,184,0.7)"/>
<circle cx="106.7" cy="855.3" r="3.2" fill="rgba(34,139,34,0.72)"/>
<circle cx="106.7" cy="884.5" r="3.2" fill="rgba(34,139,34,0.72)"/>
<circle cx="105.5" cy="928.2" r="3.2" fill="rgba(34,139,34,0.72)"/>
<circle cx="109.5" cy="932.2" r="3.2" fill="rgba(34,139,34,0.72)"/>
<circle cx="104.4" cy="938.5" r="3.2" fill="rgba(34,139,34,0.72)"/>
<circle cx="109.1" cy="951" r="3.2" fill="rgba(34,139,34,0.72)"/>
<circle cx="107.2" cy="967.4" r="3.2" fill="rgba(34,139,34,0.72)"/>
<circle cx="140.1" cy="781.3" r="3.2" fill="rgba(55,126,184,0.7)"/>
<circle cx="136.6" cy="794.2" r="3.2" fill="rgba(55,126,184,0.7)"/>
<circle cx="140.1" cy="846.9" r="3.2" fill="rgba(55,126,184,0.7)"/>
<circle cx="136.6" cy="852.7" r="3.2" fill="rgba(55,126,184,0.7)"/>
<circle cx="138.9" cy="887.5" r="3.2" fill="rgba(55,126,184,0.7)"/>
<circle cx="141.3" cy="892.7" r="3.2" fill="rgba(55,126,184,0.7)"/>
<circle cx="138.5" cy="911.7" r="3.2" fill="rgba(55,126,184,0.7)"/>
<circle cx="167.8" cy="879.3" r="3.2" fill="rgba(34,139,34,0.72)"/>
<circle cx="169" cy="905.1" r="3.2" fill="rgba(34,139,34,0.72)"/>
<circle cx="171.4" cy="912.2" r="3.2" fill="rgba(34,139,34,0.72)"/>
<circle cx="169" cy="921.1" r="3.2" fill="rgba(34,139,34,0.72)"/>
<circle cx="168.3" cy="929.1" r="3.2" fill="rgba(34,139,34,0.72)"/>
<circle cx="169" cy="943.5" r="3.2" fill="rgba(34,139,34,0.72)"/>
<circle cx="200.3" cy="901" r="3.2" fill="rgba(55,126,184,0.7)"/>
<circle cx="199.9" cy="906.2" r="3.2" fill="rgba(55,126,184,0.7)"/>
<circle cx="201.4" cy="919.1" r="3.2" fill="rgba(55,126,184,0.7)"/>
<circle cx="200.8" cy="921.3" r="3.2" fill="rgba(55,126,184,0.7)"/>
<circle cx="201.9" cy="936" r="3.2" fill="rgba(55,126,184,0.7)"/>
<circle cx="230.8" cy="913" r="3.2" fill="rgba(34,139,34,0.72)"/>
<circle cx="232.3" cy="915.7" r="3.2" fill="rgba(34,139,34,0.72)"/>
<circle cx="231.9" cy="920.6" r="3.2" fill="rgba(34,139,34,0.72)"/>
<circle cx="229.6" cy="955.2" r="3.2" fill="rgba(34,139,34,0.72)"/>
<circle cx="233" cy="973.2" r="3.2" fill="rgba(34,139,34,0.72)"/>
<circle cx="261.2" cy="831.8" r="3.2" fill="rgba(55,126,184,0.7)"/>
<circle cx="264.6" cy="880.7" r="3.2" fill="rgba(55,126,184,0.7)"/>
<circle cx="262.4" cy="900.3" r="3.2" fill="rgba(55,126,184,0.7)"/>
<circle cx="261.7" cy="912.3" r="3.2" fill="rgba(55,126,184,0.7)"/>
<circle cx="264.6" cy="920.7" r="3.2" fill="rgba(55,126,184,0.7)"/>
<circle cx="262.4" cy="920.7" r="3.2" fill="rgba(55,126,184,0.7)"/>
<circle cx="291.7" cy="972.5" r="3.2" fill="rgba(34,139,34,0.72)"/>
<circle cx="295.1" cy="912.3" r="3.2" fill="rgba(34,139,34,0.72)"/>
<circle cx="296.2" cy="919.1" r="3.2" fill="rgba(34,139,34,0.72)"/>
<circle cx="292.8" cy="940.5" r="3.2" fill="rgba(34,139,34,0.72)"/>
<circle cx="292.8" cy="947.3" r="3.2" fill="rgba(34,139,34,0.72)"/>
<circle cx="322.7" cy="876.1" r="3.2" fill="rgba(55,126,184,0.7)"/>
<circle cx="328.3" cy="879.8" r="3.2" fill="rgba(55,126,184,0.7)"/>
<circle cx="322.1" cy="919.8" r="3.2" fill="rgba(55,126,184,0.7)"/>
<circle cx="325.7" cy="936.6" r="3.2" fill="rgba(55,126,184,0.7)"/>
<circle cx="324.7" cy="944.5" r="3.2" fill="rgba(55,126,184,0.7)"/>
<circle cx="353.9" cy="920.8" r="3.2" fill="rgba(34,139,34,0.72)"/>
<circle cx="357.8" cy="937" r="3.2" fill="rgba(34,139,34,0.72)"/>
<circle cx="357.8" cy="947" r="3.2" fill="rgba(34,139,34,0.72)"/>
<circle cx="354.3" cy="955.9" r="3.2" fill="rgba(34,139,34,0.72)"/>
<circle cx="357.8" cy="975.4" r="3.2" fill="rgba(34,139,34,0.72)"/>
<circle cx="387.4" cy="895.6" r="3.2" fill="rgba(55,126,184,0.7)"/>
<circle cx="384.8" cy="911.9" r="3.2" fill="rgba(55,126,184,0.7)"/>
<circle cx="386.2" cy="919.8" r="3.2" fill="rgba(55,126,184,0.7)"/>
<circle cx="386.2" cy="950" r="3.2" fill="rgba(55,126,184,0.7)"/>
<circle cx="389.4" cy="965.1" r="3.2" fill="rgba(55,126,184,0.7)"/>
<circle cx="390.1" cy="975.4" r="3.2" fill="rgba(55,126,184,0.7)"/>
<circle cx="420.3" cy="920.4" r="3.2" fill="rgba(34,139,34,0.72)"/>
<circle cx="418.9" cy="940.5" r="3.2" fill="rgba(34,139,34,0.72)"/>
<circle cx="417" cy="961.8" r="3.2" fill="rgba(34,139,34,0.72)"/>
<circle cx="421.3" cy="972.4" r="3.2" fill="rgba(34,139,34,0.72)"/>
<circle cx="420.9" cy="979.5" r="3.2" fill="rgba(34,139,34,0.72)"/>
<rect x="45.5" y="751.5" width="403.9" height="243.4" fill="none" stroke="#555" stroke-width="1.35" stroke-linejoin="round"/>
<line x1="39.5" y1="985.5" x2="45.5" y2="985.5" stroke="#555" stroke-width="1.35"/>
<text x="0" y="0" transform="translate(31.2,985.5) rotate(-90)" font-size="9.7" text-anchor="middle" font-weight="normal" fill="#000">0</text>
<line x1="39.5" y1="940.5" x2="45.5" y2="940.5" stroke="#555" stroke-width="1.35"/>
<text x="0" y="0" transform="translate(31.2,940.5) rotate(-90)" font-size="9.7" text-anchor="middle" font-weight="normal" fill="#000">2</text>
<line x1="39.5" y1="895.5" x2="45.5" y2="895.5" stroke="#555" stroke-width="1.35"/>
<text x="0" y="0" transform="translate(31.2,895.5) rotate(-90)" font-size="9.7" text-anchor="middle" font-weight="normal" fill="#000">4</text>
<line x1="39.5" y1="850.5" x2="45.5" y2="850.5" stroke="#555" stroke-width="1.35"/>
<text x="0" y="0" transform="translate(31.2,850.5) rotate(-90)" font-size="9.7" text-anchor="middle" font-weight="normal" fill="#000">6</text>
<line x1="39.5" y1="805.5" x2="45.5" y2="805.5" stroke="#555" stroke-width="1.35"/>
<text x="0" y="0" transform="translate(31.2,805.5) rotate(-90)" font-size="9.7" text-anchor="middle" font-weight="normal" fill="#000">8</text>
<line x1="39.5" y1="760.5" x2="45.5" y2="760.5" stroke="#555" stroke-width="1.35"/>
<text x="0" y="0" transform="translate(31.2,760.5) rotate(-90)" font-size="9.7" text-anchor="middle" font-weight="normal" fill="#000">10</text>
<line x1="91.45" y1="994.9" x2="91.45" y2="1000.9" stroke="#555" stroke-width="1.35"/>
<text x="91.45" y="1016.7" font-size="9.8" text-anchor="middle" font-weight="normal" fill="#000">Baseline</text>
<line x1="153.81" y1="994.9" x2="153.81" y2="1000.9" stroke="#555" stroke-width="1.35"/>
<text x="153.81" y="1016.7" font-size="9.8" text-anchor="middle" font-weight="normal" fill="#000">1</text>
<line x1="216.17" y1="994.9" x2="216.17" y2="1000.9" stroke="#555" stroke-width="1.35"/>
<text x="216.17" y="1016.7" font-size="9.8" text-anchor="middle" font-weight="normal" fill="#000">2</text>
<line x1="278.53" y1="994.9" x2="278.53" y2="1000.9" stroke="#555" stroke-width="1.35"/>
<text x="278.53" y="1016.7" font-size="9.8" text-anchor="middle" font-weight="normal" fill="#000">3</text>
<line x1="340.89" y1="994.9" x2="340.89" y2="1000.9" stroke="#555" stroke-width="1.35"/>
<text x="340.89" y="1016.7" font-size="9.8" text-anchor="middle" font-weight="normal" fill="#000">4</text>
<line x1="403.25" y1="994.9" x2="403.25" y2="1000.9" stroke="#555" stroke-width="1.35"/>
<text x="403.25" y="1016.7" font-size="9.8" text-anchor="middle" font-weight="normal" fill="#000">5</text>
<text x="247.4" y="1040.1" font-size="9.85" text-anchor="middle" font-weight="normal" fill="#000">Timepoint</text>
<text x="0" y="0" transform="translate(7,873.2) rotate(-90)" font-size="9.9" text-anchor="middle" font-weight="normal" fill="#000">Urea Excretion (mmol/h)</text>
<line x1="137.7" y1="771.9" x2="169.7" y2="771.9" stroke="#333" stroke-width="1.7"/>
<text x="153.7" y="774.39" font-size="26" text-anchor="middle" font-weight="normal" fill="#000" stroke="#000" stroke-width="0.6">*</text>
<line x1="262.4" y1="862" x2="294.4" y2="862" stroke="#333" stroke-width="1.7"/>
<text x="278.1" y="864.39" font-size="26" text-anchor="middle" font-weight="normal" fill="#000" stroke="#000" stroke-width="0.6">*</text>
<circle cx="273.6" cy="775.1" r="4.6" fill="rgba(55,126,184,0.7)"/>
<circle cx="273.6" cy="789.3" r="4.6" fill="rgba(34,139,34,0.72)"/>
<text x="284.3" y="778.6" font-size="11.5" text-anchor="start" font-weight="normal" fill="#000">water</text>
<text x="284.3" y="793" font-size="11.5" text-anchor="start" font-weight="normal" fill="#000">no water</text>
<text x="284.3" y="807.4" font-size="11.5" text-anchor="start" font-weight="normal" fill="#000">ANOVA p = 0.00035</text>
<line x1="566.3" y1="95.3" x2="566.3" y2="118.4" stroke="#4682b4" stroke-width="1.4" stroke-dasharray="4.5 5.5" stroke-dashoffset="0.5"/>
<line x1="566.3" y1="179.4" x2="566.3" y2="151.1" stroke="#4682b4" stroke-width="1.4" stroke-dasharray="4.5 5.5" stroke-dashoffset="0.5"/>
<line x1="550.8" y1="95.3" x2="581.8" y2="95.3" stroke="#4682b4" stroke-width="1.4"/>
<line x1="550.8" y1="179.4" x2="581.8" y2="179.4" stroke="#4682b4" stroke-width="1.4"/>
<rect x="536.3" y="118.4" width="60" height="32.7" fill="#add8e6" stroke="#4682b4" stroke-width="1.4"/>
<line x1="536.3" y1="139.6" x2="596.3" y2="139.6" stroke="#4682b4" stroke-width="3.4"/>
<line x1="641.1" y1="170.5" x2="641.1" y2="176.3" stroke="#228b22" stroke-width="1.4" stroke-dasharray="4.5 5.5" stroke-dashoffset="0.5"/>
<line x1="641.1" y1="209" x2="641.1" y2="196.2" stroke="#228b22" stroke-width="1.4" stroke-dasharray="4.5 5.5" stroke-dashoffset="0.5"/>
<line x1="625.6" y1="170.5" x2="656.6" y2="170.5" stroke="#228b22" stroke-width="1.4"/>
<line x1="625.6" y1="209" x2="656.6" y2="209" stroke="#228b22" stroke-width="1.4"/>
<rect x="611.1" y="176.3" width="60" height="19.9" fill="#98fb98" stroke="#228b22" stroke-width="1.4"/>
<line x1="611.1" y1="194.5" x2="671.1" y2="194.5" stroke="#228b22" stroke-width="3.4"/>
<circle cx="569.8" cy="95.3" r="3.3" fill="rgba(55,126,184,0.7)"/>
<circle cx="572.4" cy="114.4" r="3.3" fill="rgba(55,126,184,0.7)"/>
<circle cx="569.8" cy="122.6" r="3.3" fill="rgba(55,126,184,0.7)"/>
<circle cx="560.5" cy="139.6" r="3.3" fill="rgba(55,126,184,0.7)"/>
<circle cx="572.9" cy="148.3" r="3.3" fill="rgba(55,126,184,0.7)"/>
<circle cx="568.2" cy="154.1" r="3.3" fill="rgba(55,126,184,0.7)"/>
<circle cx="564.7" cy="179.4" r="3.3" fill="rgba(55,126,184,0.7)"/>
<circle cx="641.1" cy="131.2" r="3.3" fill="rgba(34,139,34,0.72)"/>
<circle cx="633.6" cy="170.5" r="3.3" fill="rgba(34,139,34,0.72)"/>
<circle cx="638.8" cy="182.2" r="3.3" fill="rgba(34,139,34,0.72)"/>
<circle cx="641.8" cy="193.8" r="3.3" fill="rgba(34,139,34,0.72)"/>
<circle cx="646.5" cy="193.8" r="3.3" fill="rgba(34,139,34,0.72)"/>
<circle cx="646.5" cy="197.8" r="3.3" fill="rgba(34,139,34,0.72)"/>
<circle cx="636" cy="209" r="3.3" fill="rgba(34,139,34,0.72)"/>
<rect x="522.7" y="35.7" width="161.6" height="243.2" fill="none" stroke="#6a6a6a" stroke-width="1.3" stroke-linejoin="round"/>
<line x1="516.7" y1="270.1" x2="522.7" y2="270.1" stroke="#6a6a6a" stroke-width="1.3"/>
<text x="0" y="0" transform="translate(508.4,270.1) rotate(-90)" font-size="9.7" text-anchor="middle" font-weight="normal" fill="#000">0</text>
<line x1="516.7" y1="213.75" x2="522.7" y2="213.75" stroke="#6a6a6a" stroke-width="1.3"/>
<text x="0" y="0" transform="translate(508.4,213.75) rotate(-90)" font-size="9.7" text-anchor="middle" font-weight="normal" fill="#000">500</text>
<line x1="516.7" y1="157.4" x2="522.7" y2="157.4" stroke="#6a6a6a" stroke-width="1.3"/>
<text x="0" y="0" transform="translate(508.4,157.4) rotate(-90)" font-size="9.7" text-anchor="middle" font-weight="normal" fill="#000">1000</text>
<line x1="516.7" y1="101.05" x2="522.7" y2="101.05" stroke="#6a6a6a" stroke-width="1.3"/>
<text x="0" y="0" transform="translate(508.4,101.05) rotate(-90)" font-size="9.7" text-anchor="middle" font-weight="normal" fill="#000">1500</text>
<line x1="516.7" y1="44.7" x2="522.7" y2="44.7" stroke="#6a6a6a" stroke-width="1.3"/>
<text x="0" y="0" transform="translate(508.4,44.7) rotate(-90)" font-size="9.7" text-anchor="middle" font-weight="normal" fill="#000">2000</text>
<line x1="566.3" y1="278.9" x2="566.3" y2="284.9" stroke="#6a6a6a" stroke-width="1.3"/>
<text x="566.3" y="300.7" font-size="9.8" text-anchor="middle" font-weight="normal" fill="#000">water</text>
<line x1="641.1" y1="278.9" x2="641.1" y2="284.9" stroke="#6a6a6a" stroke-width="1.3"/>
<text x="641.1" y="300.7" font-size="9.8" text-anchor="middle" font-weight="normal" fill="#000">no water</text>
<text x="603.5" y="324.1" font-size="9.85" text-anchor="middle" font-weight="normal" fill="#000">Group</text>
<text x="0" y="0" transform="translate(485.1,157.3) rotate(-90)" font-size="9.9" text-anchor="middle" font-weight="normal" fill="#000">Total urine production (ml)</text>
<line x1="565.9" y1="78.2" x2="641.8" y2="78.2" stroke="#111" stroke-width="1.4"/>
<text x="603.7" y="69.19" font-size="26" text-anchor="middle" font-weight="normal" fill="#000" stroke="#000" stroke-width="0.6">*</text>
<line x1="566.3" y1="457.4" x2="566.3" y2="470.6" stroke="#4682b4" stroke-width="1.4" stroke-dasharray="4.5 5.5" stroke-dashoffset="0.5"/>
<line x1="566.3" y1="499.1" x2="566.3" y2="497.3" stroke="#4682b4" stroke-width="1.4" stroke-dasharray="4.5 5.5" stroke-dashoffset="0.5"/>
<line x1="550.8" y1="457.4" x2="581.8" y2="457.4" stroke="#4682b4" stroke-width="1.4"/>
<line x1="550.8" y1="499.1" x2="581.8" y2="499.1" stroke="#4682b4" stroke-width="1.4"/>
<rect x="536.3" y="470.6" width="60" height="26.7" fill="#add8e6" stroke="#4682b4" stroke-width="1.4"/>
<line x1="536.3" y1="485.3" x2="596.3" y2="485.3" stroke="#4682b4" stroke-width="3.4"/>
<line x1="641.1" y1="468.6" x2="641.1" y2="518" stroke="#228b22" stroke-width="1.4" stroke-dasharray="4.5 5.5" stroke-dashoffset="0.5"/>
<line x1="641.1" y1="632.6" x2="641.1" y2="579.7" stroke="#228b22" stroke-width="1.4" stroke-dasharray="4.5 5.5" stroke-dashoffset="0.5"/>
<line x1="625.6" y1="468.6" x2="656.6" y2="468.6" stroke="#228b22" stroke-width="1.4"/>
<line x1="625.6" y1="632.6" x2="656.6" y2="632.6" stroke="#228b22" stroke-width="1.4"/>
<rect x="611.1" y="518" width="60" height="61.7" fill="#98fb98" stroke="#228b22" stroke-width="1.4"/>
<line x1="611.1" y1="541" x2="671.1" y2="541" stroke="#228b22" stroke-width="3.4"/>
<circle cx="563.7" cy="420" r="3.3" fill="rgba(55,126,184,0.7)"/>
<circle cx="568.2" cy="559" r="3.3" fill="rgba(55,126,184,0.7)"/>
<circle cx="566.9" cy="457.4" r="3.3" fill="rgba(55,126,184,0.7)"/>
<circle cx="569.4" cy="484.4" r="3.3" fill="rgba(55,126,184,0.7)"/>
<circle cx="570" cy="495.6" r="3.3" fill="rgba(55,126,184,0.7)"/>
<circle cx="563.7" cy="499.1" r="3.3" fill="rgba(55,126,184,0.7)"/>
<circle cx="645.3" cy="468.6" r="3.3" fill="rgba(34,139,34,0.72)"/>
<circle cx="634.8" cy="497.3" r="3.3" fill="rgba(34,139,34,0.72)"/>
<circle cx="636.6" cy="541" r="3.3" fill="rgba(34,139,34,0.72)"/>
<circle cx="647.3" cy="538.5" r="3.3" fill="rgba(34,139,34,0.72)"/>
<circle cx="644.1" cy="566" r="3.3" fill="rgba(34,139,34,0.72)"/>
<circle cx="647.8" cy="593.4" r="3.3" fill="rgba(34,139,34,0.72)"/>
<circle cx="637.8" cy="632.6" r="3.3" fill="rgba(34,139,34,0.72)"/>
<rect x="522.7" y="388.3" width="161.6" height="253.8" fill="none" stroke="#333" stroke-width="1.2" stroke-linejoin="round"/>
<line x1="516.7" y1="632.5" x2="522.7" y2="632.5" stroke="#333" stroke-width="1.2"/>
<text x="0" y="0" transform="translate(508.4,632.5) rotate(-90)" font-size="9.7" text-anchor="middle" font-weight="normal" fill="#000">20</text>
<line x1="516.7" y1="593.38" x2="522.7" y2="593.38" stroke="#333" stroke-width="1.2"/>
<text x="0" y="0" transform="translate(508.4,593.38) rotate(-90)" font-size="9.7" text-anchor="middle" font-weight="normal" fill="#000">40</text>
<line x1="516.7" y1="554.26" x2="522.7" y2="554.26" stroke="#333" stroke-width="1.2"/>
<text x="0" y="0" transform="translate(508.4,554.26) rotate(-90)" font-size="9.7" text-anchor="middle" font-weight="normal" fill="#000">60</text>
<line x1="516.7" y1="515.14" x2="522.7" y2="515.14" stroke="#333" stroke-width="1.2"/>
<text x="0" y="0" transform="translate(508.4,515.14) rotate(-90)" font-size="9.7" text-anchor="middle" font-weight="normal" fill="#000">80</text>
<line x1="516.7" y1="476.02" x2="522.7" y2="476.02" stroke="#333" stroke-width="1.2"/>
<text x="0" y="0" transform="translate(508.4,476.02) rotate(-90)" font-size="9.7" text-anchor="middle" font-weight="normal" fill="#000">100</text>
<line x1="516.7" y1="436.9" x2="522.7" y2="436.9" stroke="#333" stroke-width="1.2"/>
<text x="0" y="0" transform="translate(508.4,436.9) rotate(-90)" font-size="9.7" text-anchor="middle" font-weight="normal" fill="#000">120</text>
<line x1="516.7" y1="397.78" x2="522.7" y2="397.78" stroke="#333" stroke-width="1.2"/>
<text x="0" y="0" transform="translate(508.4,397.78) rotate(-90)" font-size="9.7" text-anchor="middle" font-weight="normal" fill="#000">140</text>
<line x1="566.3" y1="642.1" x2="566.3" y2="648.1" stroke="#333" stroke-width="1.2"/>
<text x="566.3" y="663.9" font-size="9.8" text-anchor="middle" font-weight="normal" fill="#000">water</text>
<line x1="641.1" y1="642.1" x2="641.1" y2="648.1" stroke="#333" stroke-width="1.2"/>
<text x="641.1" y="663.9" font-size="9.8" text-anchor="middle" font-weight="normal" fill="#000">no water</text>
<text x="603.5" y="687.3" font-size="9.85" text-anchor="middle" font-weight="normal" fill="#000">Group</text>
<text x="0" y="0" transform="translate(485.1,515) rotate(-90)" font-size="9.9" text-anchor="middle" font-weight="normal" fill="#000">Total sodium excretion (mmol)</text>
<line x1="565.7" y1="417.5" x2="641.6" y2="417.5" stroke="#111" stroke-width="1.4"/>
<text x="603.6" y="411.09" font-size="26" text-anchor="middle" font-weight="normal" fill="#000" stroke="#000" stroke-width="0.6">*</text>
<line x1="566.5" y1="791.3" x2="566.5" y2="812.4" stroke="#4682b4" stroke-width="1.4" stroke-dasharray="4.5 5.5" stroke-dashoffset="0.5"/>
<line x1="566.5" y1="902.4" x2="566.5" y2="861.1" stroke="#4682b4" stroke-width="1.4" stroke-dasharray="4.5 5.5" stroke-dashoffset="0.5"/>
<line x1="551" y1="791.3" x2="582" y2="791.3" stroke="#4682b4" stroke-width="1.4"/>
<line x1="551" y1="902.4" x2="582" y2="902.4" stroke="#4682b4" stroke-width="1.4"/>
<rect x="536.5" y="812.4" width="60" height="48.7" fill="#add8e6" stroke="#4682b4" stroke-width="1.4"/>
<line x1="536.5" y1="846.7" x2="596.5" y2="846.7" stroke="#4682b4" stroke-width="3.4"/>
<line x1="641.4" y1="868" x2="641.4" y2="893.2" stroke="#228b22" stroke-width="1.4" stroke-dasharray="4.5 5.5" stroke-dashoffset="0.5"/>
<line x1="641.4" y1="968.8" x2="641.4" y2="928" stroke="#228b22" stroke-width="1.4" stroke-dasharray="4.5 5.5" stroke-dashoffset="0.5"/>
<line x1="625.9" y1="868" x2="656.9" y2="868" stroke="#228b22" stroke-width="1.4"/>
<line x1="625.9" y1="968.8" x2="656.9" y2="968.8" stroke="#228b22" stroke-width="1.4"/>
<rect x="611.4" y="893.2" width="60" height="34.8" fill="#98fb98" stroke="#228b22" stroke-width="1.4"/>
<line x1="611.4" y1="919.1" x2="671.4" y2="919.1" stroke="#228b22" stroke-width="3.4"/>
<circle cx="560.3" cy="791.3" r="3.3" fill="rgba(55,126,184,0.7)"/>
<circle cx="559.1" cy="801.6" r="3.3" fill="rgba(55,126,184,0.7)"/>
<circle cx="571.8" cy="823.2" r="3.3" fill="rgba(55,126,184,0.7)"/>
<circle cx="559.8" cy="846.7" r="3.3" fill="rgba(55,126,184,0.7)"/>
<circle cx="573.5" cy="848.4" r="3.3" fill="rgba(55,126,184,0.7)"/>
<circle cx="569.4" cy="874.3" r="3.3" fill="rgba(55,126,184,0.7)"/>
<circle cx="560.3" cy="902.4" r="3.3" fill="rgba(55,126,184,0.7)"/>
<circle cx="644.5" cy="868" r="3.3" fill="rgba(34,139,34,0.72)"/>
<circle cx="648.6" cy="886.3" r="3.3" fill="rgba(34,139,34,0.72)"/>
<circle cx="646.6" cy="900" r="3.3" fill="rgba(34,139,34,0.72)"/>
<circle cx="644.5" cy="919.1" r="3.3" fill="rgba(34,139,34,0.72)"/>
<circle cx="642.6" cy="923.2" r="3.3" fill="rgba(34,139,34,0.72)"/>
<circle cx="639" cy="931.9" r="3.3" fill="rgba(34,139,34,0.72)"/>
<circle cx="635.8" cy="968.8" r="3.3" fill="rgba(34,139,34,0.72)"/>
<rect x="522.7" y="751.2" width="161.4" height="243.5" fill="none" stroke="#555" stroke-width="1.3" stroke-linejoin="round"/>
<line x1="516.7" y1="985.8" x2="522.7" y2="985.8" stroke="#555" stroke-width="1.3"/>
<text x="0" y="0" transform="translate(508.4,985.8) rotate(-90)" font-size="9.7" text-anchor="middle" font-weight="normal" fill="#000">5</text>
<line x1="516.7" y1="929.4" x2="522.7" y2="929.4" stroke="#555" stroke-width="1.3"/>
<text x="0" y="0" transform="translate(508.4,929.4) rotate(-90)" font-size="9.7" text-anchor="middle" font-weight="normal" fill="#000">10</text>
<line x1="516.7" y1="873" x2="522.7" y2="873" stroke="#555" stroke-width="1.3"/>
<text x="0" y="0" transform="translate(508.4,873) rotate(-90)" font-size="9.7" text-anchor="middle" font-weight="normal" fill="#000">15</text>
<line x1="516.7" y1="816.6" x2="522.7" y2="816.6" stroke="#555" stroke-width="1.3"/>
<text x="0" y="0" transform="translate(508.4,816.6) rotate(-90)" font-size="9.7" text-anchor="middle" font-weight="normal" fill="#000">20</text>
<line x1="516.7" y1="760.2" x2="522.7" y2="760.2" stroke="#555" stroke-width="1.3"/>
<text x="0" y="0" transform="translate(508.4,760.2) rotate(-90)" font-size="9.7" text-anchor="middle" font-weight="normal" fill="#000">25</text>
<line x1="566.5" y1="994.7" x2="566.5" y2="1000.7" stroke="#555" stroke-width="1.3"/>
<text x="566.5" y="1016.5" font-size="9.8" text-anchor="middle" font-weight="normal" fill="#000">water</text>
<line x1="641.4" y1="994.7" x2="641.4" y2="1000.7" stroke="#555" stroke-width="1.3"/>
<text x="641.4" y="1016.5" font-size="9.8" text-anchor="middle" font-weight="normal" fill="#000">no water</text>
<text x="603.5" y="1039.9" font-size="9.85" text-anchor="middle" font-weight="normal" fill="#000">Group</text>
<text x="0" y="0" transform="translate(485.1,873) rotate(-90)" font-size="9.9" text-anchor="middle" font-weight="normal" fill="#000">Total urea excretion (mmol)</text>
<line x1="566.3" y1="771.6" x2="641.4" y2="771.6" stroke="#111" stroke-width="1.4"/>
<text x="603.6" y="774.59" font-size="26" text-anchor="middle" font-weight="normal" fill="#000" stroke="#000" stroke-width="0.6">*</text>
<text x="44.1" y="21.4" font-size="30" text-anchor="start" font-weight="normal" fill="#000">A</text>
<text x="503.45" y="21.4" font-size="30" text-anchor="start" font-weight="normal" fill="#000">B</text>
<text x="43.3" y="373.8" font-size="30" text-anchor="start" font-weight="normal" fill="#000">C</text>
<text x="502.7" y="373.3" font-size="30" text-anchor="start" font-weight="normal" fill="#000">D</text>
<text x="44.1" y="736.4" font-size="30" text-anchor="start" font-weight="normal" fill="#000">E</text>
<text x="504.5" y="736.5" font-size="30" text-anchor="start" font-weight="normal" fill="#000">F</text>
<text x="247.4" y="21.5" font-size="19.75" text-anchor="middle" font-weight="normal" fill="#000">Hourly excretion</text>
<text x="603.4" y="21.5" font-size="19.75" text-anchor="middle" font-weight="normal" fill="#000">Total excretion</text>
</svg>
</body></html>
